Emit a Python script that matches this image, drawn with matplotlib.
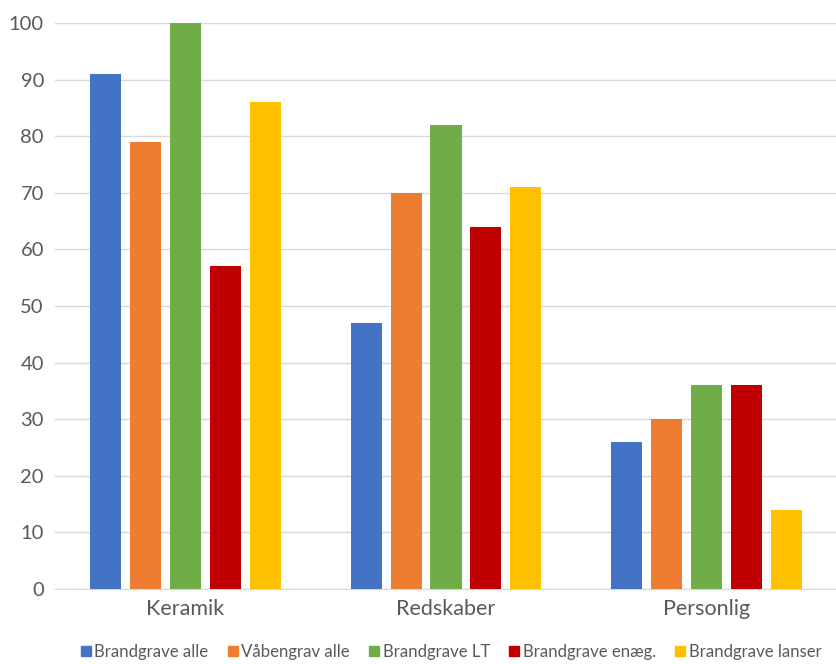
import matplotlib
matplotlib.use("Agg")
import matplotlib.pyplot as plt
import numpy as np

categories = ["Keramik", "Redskaber", "Personlig"]
series_names = ["Brandgrave alle", "Våbengrav alle", "Brandgrave LT", "Brandgrave enæg.", "Brandgrave lanser"]
brandgrave_alle = [91, 47, 26]
vaabengrav_alle = [79, 70, 30]
brandgrave_lt = [100, 82, 36]
brandgrave_enaeg = [57, 64, 36]
brandgrave_lanser = [86, 71, 14]
series_values = [brandgrave_alle, vaabengrav_alle, brandgrave_lt, brandgrave_enaeg, brandgrave_lanser]
colors = ["#4472C4", "#ED7D31", "#70AD47", "#C00000", "#FFC000"]
yticks = list(range(0, 101, 10))

plt.rcParams['font.family'] = ['Lato', 'DejaVu Sans']

fig = plt.figure(figsize=(8.37, 6.64), dpi=100)
ax = fig.add_axes([55/837, 1-589/664, 782/837, (589-23)/664])

x = np.arange(len(categories))
width = 0.119
step = 0.153
for i, (name, vals, c) in enumerate(zip(series_names, series_values, colors)):
    ax.bar(x + (i-2)*step, vals, width, color=c, label=name, zorder=3)

ax.set_xlim(-0.5, 2.5)
ax.set_ylim(0, 100)
ax.set_yticks(yticks)
ax.set_yticklabels([str(t) for t in yticks], fontsize=14.5, color="#595959")
ax.set_xticks(x)
ax.set_xticklabels(categories, fontsize=15.5, color="#595959")
ax.tick_params(axis='both', length=0)
ax.tick_params(axis='y', pad=8)
ax.tick_params(axis='x', pad=7)
ax.grid(axis='y', color="#D9D9D9", linewidth=1, zorder=0)
for s in ["left", "right", "top"]:
    ax.spines[s].set_visible(False)
ax.spines["bottom"].set_color("#D9D9D9")

handles = [plt.Line2D([0], [0], marker='s', linestyle='', markersize=7, markerfacecolor=c, markeredgecolor=c) for c in colors]
fig.legend(handles, series_names, loc='center', bbox_to_anchor=(0.536, 1-652/664), ncol=5,
           frameon=False, fontsize=12.1, handletextpad=-0.1, columnspacing=0.85, handlelength=1.2,
           labelcolor="#595959")

fig.savefig("out.png", dpi=100)
